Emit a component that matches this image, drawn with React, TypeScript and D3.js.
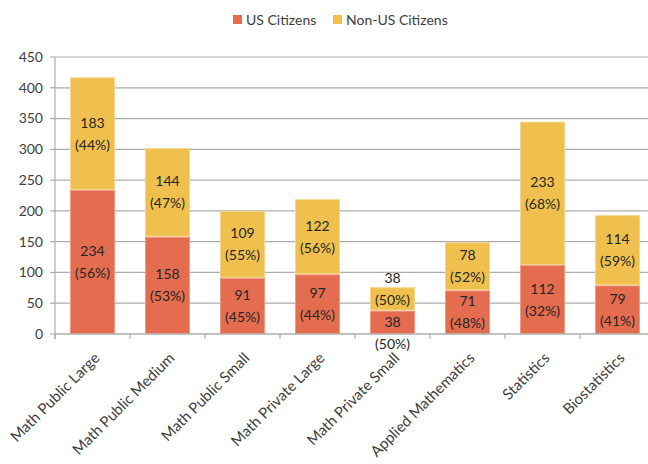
import React from "react";
import * as d3 from "d3";

const categories = [
  "Math Public Large",
  "Math Public Medium",
  "Math Public Small",
  "Math Private Large",
  "Math Private Small",
  "Applied Mathematics",
  "Statistics",
  "Biostatistics",
];
const usCitizens = [234, 158, 91, 97, 38, 71, 112, 79];
const nonUsCitizens = [183, 144, 109, 122, 38, 78, 233, 114];
const usPercent = [56, 53, 45, 44, 50, 48, 32, 41];
const nonUsPercent = [44, 47, 55, 56, 50, 52, 68, 59];
const yTicks = [0, 50, 100, 150, 200, 250, 300, 350, 400, 450];
const seriesNames = ["US Citizens", "Non-US Citizens"];

const W = 648;
const H = 464;
const FONT = "Lato, 'Open Sans', sans-serif";
const TEXT = "#404040";
const COLORS = ["#E46C4F", "#F0C04E"];
const EDGE = ["#EE9A86", "#F6D58E"];
const GRID = "#ADADAD";
const BLOCK = 44; // approximate height of a two-line label block

export default function App() {
  const x = d3.scaleBand<string>().domain(categories).range([55, 655]).paddingInner(0.4).paddingOuter(0.2);
  const y = d3.scaleLinear().domain([0, 450]).range([334, 57]);
  const step = x.step();

  const stack = categories.map((c, i) => {
    const us = usCitizens[i];
    const non = nonUsCitizens[i];
    const tot = us + non;
    const segs = [
      { c, y0: 0, y1: us, v: us, p: usPercent[i], k: 0, cy: 0 },
      { c, y0: us, y1: tot, v: non, p: nonUsPercent[i], k: 1, cy: 0 },
    ];
    segs.forEach((s) => (s.cy = (y(s.y0) + y(s.y1)) / 2));
    const gap = segs[0].cy - segs[1].cy;
    if (gap < BLOCK) {
      const push = (BLOCK - gap) / 2;
      segs[0].cy += push;
      segs[1].cy -= push;
    }
    return segs;
  });

  return (
    <div style={{ position: "absolute", left: 0, top: 0 }}>
      <svg width={W} height={H} style={{ display: "block", background: "#fff" }} fontFamily={FONT}>
        {yTicks.map((t) => (
          <g key={t}>
            <line x1={55} x2={W} y1={y(t)} y2={y(t)} stroke={GRID} strokeWidth={1.2} />
            <line x1={50} x2={55} y1={y(t)} y2={y(t)} stroke={GRID} strokeWidth={1.2} />
            <text x={43} y={y(t)} dy="0.35em" textAnchor="end" fontSize={14} fill={TEXT}>
              {t}
            </text>
          </g>
        ))}
        <line x1={55} x2={55} y1={y(450)} y2={y(0) + 5} stroke={GRID} strokeWidth={1.2} />
        {stack.map((segs, i) =>
          segs.map((s) => (
            <rect
              key={i + "-" + s.k}
              x={x(s.c)! + 0.5}
              width={x.bandwidth() - 1}
              y={y(s.y1) + 0.5}
              height={y(s.y0) - y(s.y1) - 1}
              fill={COLORS[s.k]}
              stroke={EDGE[s.k]}
              strokeWidth={1}
            />
          ))
        )}
        <line x1={55} x2={W} y1={y(0)} y2={y(0)} stroke={GRID} strokeWidth={1.2} />
        {categories.map((c, i) => (
          <line
            key={"tk" + c}
            x1={55 + i * step}
            x2={55 + i * step}
            y1={y(0)}
            y2={y(0) + 5}
            stroke={GRID}
            strokeWidth={1.2}
          />
        ))}
        {stack.map((segs) =>
          segs.map((s) => {
            const cx = x(s.c)! + x.bandwidth() / 2;
            return (
              <text key={"l" + s.c + s.k} x={cx} textAnchor="middle" fontSize={14} fill="#262626">
                <tspan x={cx} y={s.cy - 6}>{s.v}</tspan>
                <tspan x={cx} y={s.cy + 16}>({s.p}%)</tspan>
              </text>
            );
          })
        )}
        {categories.map((c) => {
          const cx = x(c)! + x.bandwidth() / 2 + 8;
          const cy = y(0) + 25;
          return (
            <text
              key={"c" + c}
              transform={`translate(${cx},${cy}) rotate(-45)`}
              textAnchor="end"
              fontSize={15}
              fill={TEXT}
            >
              {c}
            </text>
          );
        })}
        {seriesNames.map((n, i) => {
          const lx = i === 0 ? 233 : 333;
          return (
            <g key={n}>
              <rect x={lx} y={15} width={9} height={9} fill={COLORS[i]} />
              <text x={lx + 13} y={20} dy="0.35em" fontSize={14} fill={TEXT}>
                {n}
              </text>
            </g>
          );
        })}
      </svg>
    </div>
  );
}
